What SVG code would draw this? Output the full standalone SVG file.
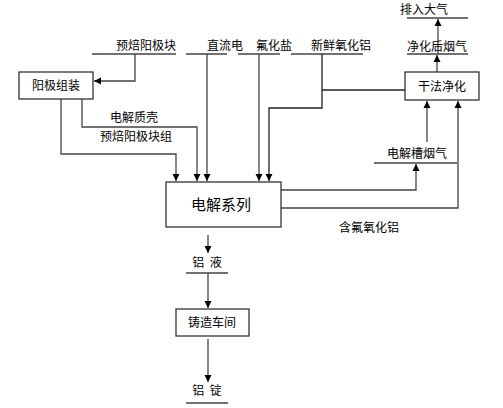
<svg xmlns="http://www.w3.org/2000/svg" width="503" height="408" viewBox="0 0 503 408">
<style>
text{font-family:"Noto Sans CJK SC","Liberation Sans",sans-serif;font-size:12px;fill:#000}
.big{font-size:15px}
.box{fill:#fff;stroke:#333;stroke-width:1.3}
.ln{fill:none;stroke:#444;stroke-width:1.3}
.ul{fill:none;stroke:#444;stroke-width:1.3}
</style>
<defs>
<marker id="ah" markerWidth="8" markerHeight="8" refX="7" refY="4" orient="auto" markerUnits="userSpaceOnUse">
<path d="M0,0.5 L7,4 L0,7.5 Z" fill="#000"/>
</marker>
</defs>
<rect width="503" height="408" fill="#fff"/>
<g id="connectors">
<path class="ul" d="M92,54H176M186,54H227M238,54H280M291,54H363M407,54H468M407,18H468M374,163H457M186,273H228M186,403H228"/>
<path class="ln" d="M135,54V81H94" marker-end="url(#ah)"/>
<path class="ln" d="M207,54V181" marker-end="url(#ah)"/>
<path class="ln" d="M259,54V181" marker-end="url(#ah)"/>
<path class="ln" d="M322,54V108H269V181" marker-end="url(#ah)" style="stroke:#222"/>
<path class="ln" d="M322,90H405" style="stroke:#222"/>
<path class="ln" d="M61,99V154H176V181" marker-end="url(#ah)"/>
<path class="ln" d="M82,99V127H197V181" marker-end="url(#ah)"/>
<path class="ln" d="M437,72V55" marker-end="url(#ah)"/>
<path class="ln" d="M438,54V19" marker-end="url(#ah)"/>
<path class="ln" d="M427,142V101" marker-end="url(#ah)"/>
<path class="ln" d="M281,208H458V101" marker-end="url(#ah)"/>
<path class="ln" d="M281,190H416V164" marker-end="url(#ah)"/>
<path class="ln" d="M208,235V253" marker-end="url(#ah)"/>
<path class="ln" d="M208,273V308" marker-end="url(#ah)"/>
<path class="ln" d="M208,339V382" marker-end="url(#ah)"/>
</g>
<g id="labels">
<text x="146" y="50" text-anchor="middle">预焙阳极块</text>
<text x="225" y="50" text-anchor="middle">直流电</text>
<text x="274" y="50" text-anchor="middle">氟化盐</text>
<text x="341" y="50" text-anchor="middle">新鲜氧化铝</text>
<text x="424" y="14" text-anchor="middle">排入大气</text>
<text x="437" y="51" text-anchor="middle">净化后烟气</text>
<text x="134" y="122" text-anchor="middle">电解质壳</text>
<text x="136" y="141" text-anchor="middle">预焙阳极块组</text>
<text x="417" y="158" text-anchor="middle">电解槽烟气</text>
<text x="369" y="232" text-anchor="middle">含氟氧化铝</text>
<text x="207" y="267" text-anchor="middle" xml:space="preserve">铝  液</text>
<text x="207" y="395" text-anchor="middle" xml:space="preserve">铝  锭</text>
</g>
<g id="anode">
<rect class="box" x="19" y="72" width="74" height="27"/>
<text x="56" y="90" text-anchor="middle">阳极组装</text>
</g>
<g id="electrolysis">
<rect class="box" x="166" y="182" width="115" height="45"/>
<text class="big" x="221" y="210" text-anchor="middle">电解系列</text>
</g>
<g id="dry">
<rect class="box" x="405" y="72" width="74" height="28"/>
<text x="442" y="91" text-anchor="middle">干法净化</text>
</g>
<g id="casting">
<rect class="box" x="176" y="309" width="73" height="27"/>
<text x="212" y="327" text-anchor="middle">铸造车间</text>
</g>
</svg>
